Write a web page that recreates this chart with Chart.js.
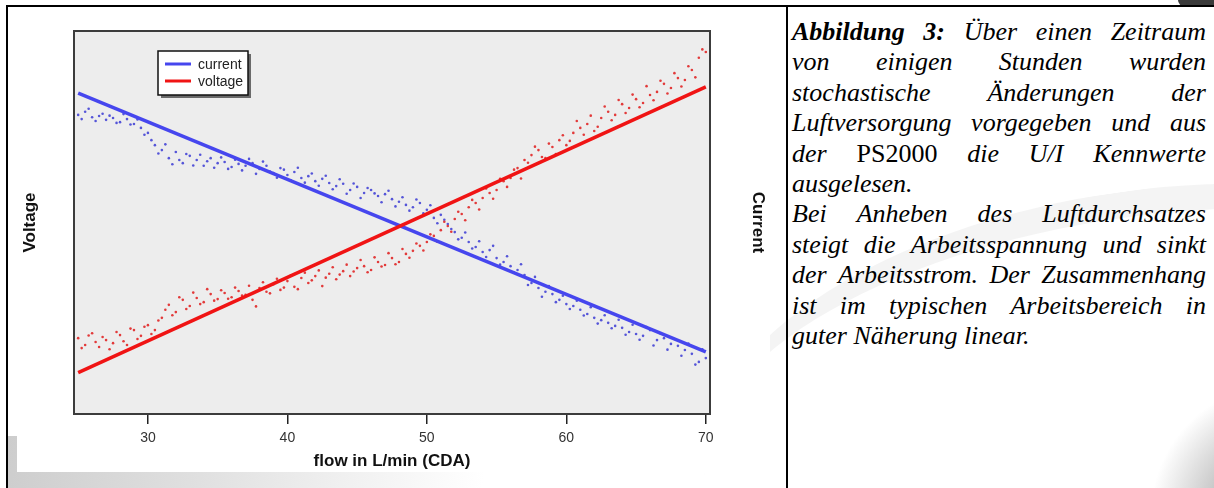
<!DOCTYPE html>
<html>
<head>
<meta charset="utf-8">
<script src="https://cdn.jsdelivr.net/npm/chart.js@4.4.1/dist/chart.umd.min.js"></script>
<style>
  html, body { margin: 0; padding: 0; }
  body { width: 1214px; height: 488px; overflow: hidden; position: relative; background: #fff; }
  .deco { position: absolute; pointer-events: none; }
  #swirlLeft { left: 8px; top: 436px; width: 560px; height: 52px;
    background: linear-gradient(100deg, #cdcdcd 0%, #e0e0e0 35%, #f0f0f0 60%, rgba(255,255,255,0) 85%); }
  #swirlText { left: 700px; top: 190px; width: 900px; height: 420px; border-radius: 50%;
    border-top: 26px solid rgba(0,0,0,0.045); transform: rotate(-8deg); }
  #swirlCorner { left: 1150px; top: 380px; width: 200px; height: 220px; border-radius: 50%;
    background: radial-gradient(ellipse at 70% 60%, #9a9a9a 0%, #c8c8c8 40%, rgba(255,255,255,0) 70%); }
  #tab { left: 1178px; top: -6px; width: 44px; height: 12px; border-radius: 6px; background: #3a3a3a; }
  .rule { position: absolute; background: #000; }
  #chartBox { position: absolute; left: 17px; top: 7px; width: 753px; height: 465px; background: #fff; }
  #caption { position: absolute; left: 792px; top: 17px; width: 414px;
    font-family: "Liberation Serif", "Times New Roman", serif; font-style: italic;
    font-size: 26px; line-height: 30.4px; color: #000; }
  #caption div { white-space: nowrap; }
  #caption .j { display: flex; justify-content: space-between; }
  #caption .up { font-style: normal; }
</style>
</head>
<body>
<div id="swirlLeft" class="deco"></div>
<div id="swirlText" class="deco"></div>
<div id="swirlCorner" class="deco"></div>
<div id="tab" class="deco"></div>
<div class="rule" style="left:6px;top:5px;width:1208px;height:2px"></div>
<div class="rule" style="left:6px;top:5px;width:2px;height:483px"></div>
<div class="rule" style="left:786px;top:5px;width:2px;height:483px"></div>

<div id="chartBox"><canvas id="flowChart" width="753" height="465"></canvas></div>

<div id="caption">
  <div class="j"><b>Abbildung</b><b>3:</b><span>Über</span><span>einen</span><span>Zeitraum</span></div>
  <div class="j"><span>von</span><span>einigen</span><span>Stunden</span><span>wurden</span></div>
  <div class="j"><span>stochastische</span><span>Änderungen</span><span>der</span></div>
  <div class="j"><span>Luftversorgung</span><span>vorgegeben</span><span>und</span><span>aus</span></div>
  <div class="j"><span>der</span><span class="up">PS2000</span><span>die</span><span>U/I</span><span>Kennwerte</span></div>
  <div>ausgelesen.</div>
  <div class="j"><span>Bei</span><span>Anheben</span><span>des</span><span>Luftdurchsatzes</span></div>
  <div class="j"><span>steigt</span><span>die</span><span>Arbeitsspannung</span><span>und</span><span>sinkt</span></div>
  <div class="j"><span>der</span><span>Arbeitsstrom.</span><span>Der</span><span>Zusammenhang</span></div>
  <div class="j"><span>ist</span><span>im</span><span>typischen</span><span>Arbeitsbereich</span><span>in</span></div>
  <div>guter Näherung linear.</div>
</div>

<script>
// flow readings (L/min) and the sampled current / voltage (arbitrary units, the source has no y tick labels)
const flow = [25, 25.5, 26, 26.5, 27, 27.5, 28, 28.5, 29, 29.5, 30, 30.5, 31, 31.5, 32, 32.5, 33, 33.5, 34, 34.5,
  35, 35.5, 36, 36.5, 37, 37.5, 38, 38.5, 39, 39.5, 40, 40.5, 41, 41.5, 42, 42.5, 43, 43.5, 44, 44.5,
  45, 45.5, 46, 46.5, 47, 47.5, 48, 48.5, 49, 49.5, 50, 50.5, 51, 51.5, 52, 52.5, 53, 53.5, 54, 54.5,
  55, 55.5, 56, 56.5, 57, 57.5, 58, 58.5, 59, 59.5, 60, 60.5, 61, 61.5, 62, 62.5, 63, 63.5, 64, 64.5,
  65, 65.5, 66, 66.5, 67, 67.5, 68, 68.5, 69, 69.5, 70];

const currentDots = [78.1, 78.9, 77.5, 77.8, 76.8, 77.3, 76.2, 77.0, 75.7, 74.7, 73.4, 70.2, 68.9, 66.8, 68.4, 65.5, 67.4, 66.3, 64.8, 66.8,
  65.5, 65.8, 64.5, 65.3, 64.8, 65.5, 64.0, 64.8, 62.9, 64.2, 62.4, 63.2, 61.6, 62.1, 60.8, 61.4, 60.3, 59.5, 60.1, 58.5,
  59.3, 57.7, 58.5, 56.9, 57.4, 56.1, 55.4, 54.6, 54.0, 55.1, 53.3, 51.2, 52.0, 49.6, 47.5, 46.0, 44.9, 43.6, 42.3, 42.8,
  40.7, 39.7, 38.6, 37.6, 36.3, 34.2, 32.9, 31.9, 31.3, 29.8, 28.7, 28.2, 27.2, 26.1, 25.1, 24.5, 23.8, 23.0, 22.5, 21.4,
  20.9, 20.4, 21.9, 19.3, 19.8, 18.3, 17.8, 16.7, 15.7, 13.6, 14.6];

const voltageDots = [19.8, 18.0, 21.1, 17.5, 19.3, 18.5, 20.6, 18.0, 21.9, 20.4, 23.2, 21.9, 25.1, 28.5, 26.6, 29.8, 28.2, 30.3, 29.2, 31.3,
  30.0, 31.6, 30.5, 32.1, 31.1, 29.8, 32.9, 31.9, 33.9, 32.4, 34.7, 33.2, 35.5, 34.2, 36.0, 33.4, 36.6, 35.2, 37.3, 36.0,
  38.1, 38.6, 37.6, 39.7, 38.9, 40.7, 39.7, 41.8, 42.6, 43.9, 44.9, 46.5, 48.0, 49.1, 50.9, 52.2, 54.0, 55.1, 56.4, 57.7,
  58.5, 60.8, 61.6, 64.2, 66.3, 67.6, 68.9, 66.8, 69.7, 71.5, 70.2, 73.4, 74.7, 75.7, 73.9, 77.3, 78.9, 78.1, 80.9, 79.9,
  82.2, 81.2, 83.3, 84.1, 86.2, 85.1, 87.7, 87.2, 89.8, 93.0, 94.5];

// second batch of samples taken between the ones above
const flowB = [25.25, 25.75, 26.25, 26.75, 27.25, 27.75, 28.25, 28.75, 29.25, 29.75, 30.25, 30.75, 31.25, 31.75, 32.25, 32.75,
  33.25, 33.75, 34.25, 34.75, 35.25, 35.75, 36.25, 36.75, 37.25, 37.75, 38.25, 38.75, 39.25, 39.75, 40.25, 40.75,
  41.25, 41.75, 42.25, 42.75, 43.25, 43.75, 44.25, 44.75, 45.25, 45.75, 46.25, 46.75, 47.25, 47.75, 48.25, 48.75,
  49.25, 49.75, 50.25, 50.75, 51.25, 51.75, 52.25, 52.75, 53.25, 53.75, 54.25, 54.75, 55.25, 55.75, 56.25, 56.75,
  57.25, 57.75, 58.25, 58.75, 59.25, 59.75, 60.25, 60.75, 61.25, 61.75, 62.25, 62.75, 63.25, 63.75, 64.25, 64.75,
  65.25, 65.75, 66.25, 66.75, 67.25, 67.75, 68.25, 68.75, 69.25, 69.75];

const currentDotsB = [77.0, 79.7, 76.5, 78.4, 77.9, 76.0, 78.3, 75.6, 76.9, 72.9, 71.5, 68.0, 70.4, 65.2, 66.3, 67.9,
  64.9, 67.7, 66.0, 64.3, 67.0, 64.0, 66.4, 63.6, 66.6, 62.7, 65.9, 63.3, 61.7, 63.8, 61.0, 64.3,
  60.4, 62.8, 59.6, 62.2, 58.7, 61.3, 57.5, 60.2, 56.4, 59.0, 57.6, 55.3, 58.3, 54.2, 56.6, 53.1,
  56.0, 52.4, 54.5, 49.8, 50.7, 48.3, 45.6, 47.4, 43.2, 45.1, 41.0, 43.9, 39.0, 41.2, 36.9, 39.1,
  33.7, 35.8, 30.6, 33.4, 29.2, 30.9, 27.4, 29.6, 25.7, 27.9, 23.6, 25.8, 22.4, 24.6, 20.7, 23.3,
  19.4, 22.7, 17.9, 21.0, 16.8, 19.6, 15.2, 18.4, 12.9, 16.9];

const voltageDotsB = [17.2, 20.5, 18.8, 20.1, 16.9, 21.4, 19.0, 22.3, 19.6, 22.8, 20.9, 24.4, 27.2, 25.8, 30.5, 27.4,
  31.7, 28.7, 32.6, 29.6, 32.3, 30.1, 33.0, 30.9, 33.5, 28.1, 34.4, 31.5, 35.3, 33.0, 36.2, 32.6,
  36.9, 34.9, 37.5, 35.6, 38.3, 36.4, 39.0, 37.2, 40.2, 37.0, 40.9, 38.5, 42.0, 39.1, 43.1, 40.8,
  44.5, 42.7, 46.9, 45.0, 50.2, 47.6, 52.8, 50.6, 55.9, 53.4, 58.9, 56.2, 61.4, 59.3, 63.8, 61.5,
  65.6, 69.8, 67.1, 70.6, 67.9, 72.8, 71.3, 76.5, 72.9, 77.9, 75.0, 80.3, 76.7, 82.0, 78.6, 83.4,
  80.1, 85.6, 81.9, 87.0, 83.7, 89.0, 85.5, 90.8, 87.9, 95.2];

// linear fits
const fitFlow = [25, 70];
const currentFit = [83.8, 16.2];
const voltageFit = [10.8, 85.4];

const xTicks = [30, 40, 50, 60, 70];

const toPoints = (xs, ys) => xs.map((x, i) => ({ x: x, y: ys[i] }));

// grey panel + dark frame around the plot area, legend drawn inside it
const panelPlugin = {
  id: 'panel',
  beforeDraw(chart) {
    const { ctx, chartArea: a } = chart;
    ctx.save();
    ctx.fillStyle = '#ededed';
    ctx.fillRect(a.left, a.top, a.right - a.left, a.bottom - a.top);
    ctx.restore();
  },
  afterDraw(chart) {
    const { ctx, chartArea: a } = chart;
    ctx.save();
    ctx.strokeStyle = '#3c3c3c';
    ctx.lineWidth = 2;
    ctx.strokeRect(a.left, a.top, a.right - a.left, a.bottom - a.top);

    // legend box
    const items = chart.data.datasets.filter(d => d.inLegend);
    const bx = a.left + 84, by = a.top + 20, bw = 90, bh = 44;
    ctx.fillStyle = '#6a6a6a';
    ctx.fillRect(bx + 3, by + 3, bw, bh);
    ctx.fillStyle = '#fff';
    ctx.fillRect(bx, by, bw, bh);
    ctx.strokeStyle = '#111';
    ctx.lineWidth = 1.5;
    ctx.strokeRect(bx, by, bw, bh);
    ctx.font = '14px "Liberation Sans", Arial, sans-serif';
    ctx.textBaseline = 'middle';
    items.forEach((d, i) => {
      const ly = by + 13 + i * 17;
      ctx.strokeStyle = d.borderColor;
      ctx.lineWidth = 3;
      ctx.beginPath();
      ctx.moveTo(bx + 7, ly);
      ctx.lineTo(bx + 33, ly);
      ctx.stroke();
      ctx.fillStyle = '#222';
      ctx.fillText(d.label, bx + 40, ly + 1);
    });
    ctx.restore();
  }
};

const titleFont = { family: '"Liberation Sans", Arial, sans-serif', size: 17, weight: 'bold' };

new Chart(document.getElementById('flowChart').getContext('2d'), {
  type: 'scatter',
  data: {
    datasets: [
      {
        label: 'current',
        inLegend: true,
        type: 'line',
        data: toPoints(fitFlow, currentFit),
        yAxisID: 'y1',
        borderColor: '#4646ee',
        borderWidth: 3.5,
        pointRadius: 0,
        order: 1
      },
      {
        label: 'voltage',
        inLegend: true,
        type: 'line',
        data: toPoints(fitFlow, voltageFit),
        yAxisID: 'y',
        borderColor: '#f01414',
        borderWidth: 3.5,
        pointRadius: 0,
        order: 0
      },
      {
        label: 'voltage samples',
        data: toPoints(flow, voltageDots).concat(toPoints(flowB, voltageDotsB)),
        yAxisID: 'y',
        backgroundColor: '#e23a3a',
        borderWidth: 0,
        pointRadius: 1.3,
        order: 2
      },
      {
        label: 'current samples',
        data: toPoints(flow, currentDots).concat(toPoints(flowB, currentDotsB)),
        yAxisID: 'y1',
        backgroundColor: '#5555d8',
        borderWidth: 0,
        pointRadius: 1.3,
        order: 3
      }
    ]
  },
  options: {
    responsive: false,
    animation: false,
    layout: { padding: { top: 24, left: 0, right: 0, bottom: 0 } },
    plugins: {
      legend: { display: false },
      tooltip: { enabled: false }
    },
    scales: {
      x: {
        type: 'linear',
        min: 24.7,
        max: 70.3,
        afterBuildTicks: scale => { scale.ticks = xTicks.map(v => ({ value: v })); },
        afterFit: scale => { scale.height = 58; },
        border: { display: false },
        grid: { drawOnChartArea: false, drawTicks: true, tickLength: 10, color: '#222', lineWidth: 1.5 },
        ticks: { color: '#333', padding: 6, font: { family: '"Liberation Sans", Arial, sans-serif', size: 14 } },
        title: { display: true, text: 'flow in L/min (CDA)', color: '#111', font: titleFont, padding: { top: 0, bottom: 0 } }
      },
      y: {
        position: 'left',
        min: 0,
        max: 100,
        afterFit: scale => { scale.width = 57; },
        border: { display: false },
        grid: { display: false },
        ticks: { display: false },
        title: { display: true, text: 'Voltage', color: '#111', font: titleFont, padding: { top: 3, bottom: 0 } }
      },
      y1: {
        position: 'right',
        min: 0,
        max: 100,
        afterFit: scale => { scale.width = 60; },
        border: { display: false },
        grid: { display: false },
        ticks: { display: false },
        title: { display: true, text: 'Current', color: '#111', font: titleFont, padding: { top: 2, bottom: 0 } }
      }
    }
  },
  plugins: [panelPlugin]
});
</script>
</body>
</html>
